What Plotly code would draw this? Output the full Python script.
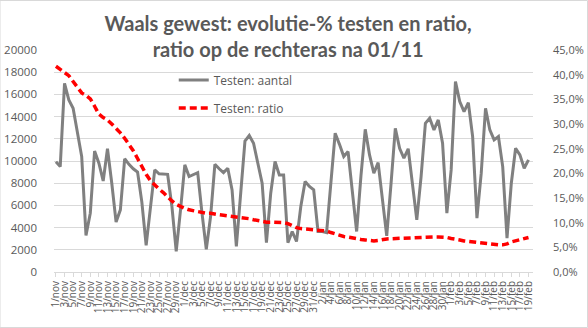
import pandas as pd
import plotly.graph_objects as go

# ---- data ----
start_date = "2020-11-01"
end_date = "2021-02-19"
month_nl = {11: "nov", 12: "dec", 1: "jan", 2: "feb"}

testen_aantal = [
    9930, 9500, 17000, 15500, 14750, 12500, 10400, 3300, 5300, 10900,
    9800, 8200, 11100, 8000, 4500, 5600, 10200, 9700, 9300, 9000,
    6300, 2400, 5900, 9200, 8850, 8800, 8800, 5900, 1850, 5600,
    9650, 8600, 8800, 8950, 5300, 2050, 5000, 9700, 9300, 8950,
    9350, 7400, 2300, 7400, 11800, 12300, 11600, 9800, 8000, 2650,
    7100, 9950, 8750, 8750, 2650, 3650, 2750, 5900, 8150, 7700,
    7400, 3650, 3650, 3550, 7700, 12500, 11500, 10400, 10850, 7100,
    3650, 8650, 12850, 10550, 8900, 9850, 6450, 3250, 7950, 12950,
    11150, 10250, 11100, 8000, 4700, 8600, 13400, 13850, 12800, 13700,
    11600, 5300, 9200, 17150, 15350, 14450, 15250, 12200, 4850, 8900,
    14750, 12800, 11900, 12200, 9500, 3050, 8000, 11150, 10550, 9350,
    10100,
]

testen_ratio = [
    41.7, 41.0, 40.4, 39.8, 38.6, 37.3, 36.3, 35.8, 35.1, 33.6,
    32.0, 31.3, 30.8, 30.0, 29.2, 28.2, 27.1, 25.9, 24.6, 23.0,
    21.3, 19.8, 18.5, 17.6, 16.8, 16.1, 15.2, 14.4, 13.7, 13.2,
    12.9, 12.6, 12.4, 12.2, 12.0, 11.9, 11.9, 11.7, 11.6, 11.5,
    11.4, 11.3, 11.2, 11.1, 11.0, 10.8, 10.6, 10.4, 10.2, 10.1,
    10.1, 10.1, 10.1, 10.0, 9.8, 9.4, 9.0, 8.8, 8.7, 8.6,
    8.6, 8.5, 8.4, 8.3, 8.0, 7.7, 7.4, 7.2, 7.1, 6.9,
    6.8, 6.6, 6.5, 6.4, 6.3, 6.4, 6.6, 6.7, 6.75, 6.8,
    6.8, 6.8, 6.9, 6.9, 6.9, 7.0, 7.0, 7.1, 7.1, 7.1,
    7.1, 7.0, 6.8, 6.7, 6.5, 6.3, 6.2, 6.0, 5.9, 5.8,
    5.7, 5.7, 5.6, 5.5, 5.5, 5.7, 6.1, 6.3, 6.5, 6.8,
    7.0,
]

left_ticks = [0, 2000, 4000, 6000, 8000, 10000, 12000, 14000, 16000, 18000, 20000]
right_ticks = [0, 0.05, 0.10, 0.15, 0.20, 0.25, 0.30, 0.35, 0.40, 0.45]

# ---- build ----
dates = pd.date_range(start_date, end_date, freq="D")
labels = [f"{d.day}/{month_nl[d.month]}" for d in dates]
idx = list(range(len(dates)))
ratio_frac = [v / 100 for v in testen_ratio]

txt = "#595959"
grid = "#d9d9d9"

fig = go.Figure()
fig.add_trace(go.Scatter(
    x=idx, y=testen_aantal, mode="lines", name="Testen: aantal",
    line=dict(color="#808080", width=3), legendgroup="a", yaxis="y",
))
fig.add_trace(go.Scatter(
    x=idx, y=ratio_frac, mode="lines", name="Testen: ratio",
    line=dict(color="#ff0000", width=3.5, dash="7px,4px"), legendgroup="b", yaxis="y2",
))

fig.update_layout(
    width=588, height=328,
    margin=dict(l=54, r=55, t=50, b=56, autoexpand=False),
    paper_bgcolor="white", plot_bgcolor="white",
    separators=",.",
    font=dict(family="Open Sans, sans-serif", color=txt, size=12),
    title=dict(
        text="<b>Waals gewest: evolutie-% testen en ratio,<br>ratio op de rechteras na 01/11</b>",
        x=0.49, xanchor="center", y=0.905, yanchor="middle",
        font=dict(family="Lato, sans-serif", size=20, color=txt),
    ),
    showlegend=True,
    legend=dict(
        x=0.25, y=0.93, xanchor="left", yanchor="top",
        bgcolor="rgba(255,255,255,0)", font=dict(size=12, color=txt),
        tracegroupgap=9,
    ),
    xaxis=dict(
        range=[-0.45, len(idx) - 1 + 1.05],
        tickmode="array", tickvals=idx[::2], ticktext=labels[::2],
        tickangle=-90, tickfont=dict(size=10, color=txt),
        ticks="outside", ticklen=4, tickcolor=grid, automargin=False,
        showgrid=False, showline=True, linecolor=grid, zeroline=False,
    ),
    yaxis=dict(
        range=[0, 20000], tickmode="array", tickvals=left_ticks, tickformat="d",
        showgrid=True, gridcolor=grid, gridwidth=1, zeroline=False,
        tickfont=dict(size=11.5, color=txt), ticklabelstandoff=16, automargin=False,
    ),
    yaxis2=dict(
        range=[0, 0.45], tickmode="array", tickvals=right_ticks, tickformat=".1%",
        overlaying="y", side="right", showgrid=False, zeroline=False,
        tickfont=dict(size=11, color=txt), ticklabelstandoff=19, automargin=False,
    ),
    shapes=[dict(
        type="rect", xref="paper", yref="paper",
        x0=-54 / 479, x1=1 + 54.5 / 479, y0=-55.5 / 222, y1=1 + 49.5 / 222,
        line=dict(color=grid, width=1), fillcolor="rgba(0,0,0,0)",
    )],
)

fig.write_html("out.html")
